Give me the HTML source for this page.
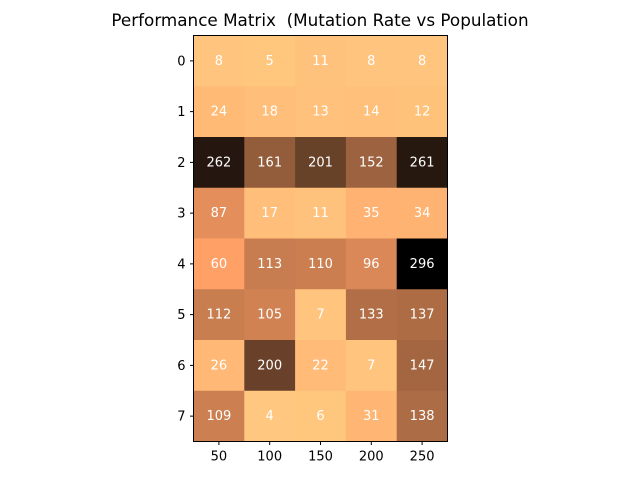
<!DOCTYPE html>
<html><head><meta charset="utf-8"><style>
body{margin:0;background:#fff;}
svg{display:block;font-family:"DejaVu Sans","Liberation Sans",sans-serif;}
</style></head><body>
<svg id="chart" width="640" height="480" viewBox="0 0 640 480">
<text x="320" y="26" text-anchor="middle" font-size="16.8" fill="#000" style="white-space:pre">Performance Matrix  (Mutation Rate vs Population</text>
<g id="cells"></g>
<g id="axes"></g>
</svg>
<script>
const rowLabels = ["0","1","2","3","4","5","6","7"];
const colLabels = ["50","100","150","200","250"];
const values = [
  [8,5,11,8,8],
  [24,18,13,14,12],
  [262,161,201,152,261],
  [87,17,11,35,34],
  [60,113,110,96,296],
  [112,105,7,133,137],
  [26,200,22,7,147],
  [109,4,6,31,138]
];
const L=193.5,R=447.5,T=35.5,B=441.5;
const ns="http://www.w3.org/2000/svg";
const cw=(R-L)/colLabels.length, rh=(B-T)/rowLabels.length;
function xScale(j){return L+j*cw;}
function yScale(i){return T+i*rh;}
const flat=values.flat();
const vmin=Math.min(...flat), vmax=Math.max(...flat);
function color(v){
  const x=1-(v-vmin)/(vmax-vmin);
  const r=Math.min(1.25*x,1)*255, g=0.7812*x*255, b=0.4975*x*255;
  return `rgb(${Math.round(r)},${Math.round(g)},${Math.round(b)})`;
}
const cells=document.getElementById('cells'), axes=document.getElementById('axes');
function mk(tag,attrs,parent){const e=document.createElementNS(ns,tag);for(const k in attrs)e.setAttribute(k,attrs[k]);parent.appendChild(e);return e;}
values.forEach((row,i)=>row.forEach((v,j)=>{
  const r=mk('rect',{x:xScale(j),y:yScale(i),width:cw+0.5,height:rh+0.5,fill:color(v)},cells);
  
  
  const t=mk('text',{x:xScale(j)+cw/2,y:yScale(i)+rh/2+4,'text-anchor':'middle','font-size':'13',fill:'#fff'},cells);
  t.textContent=v;
  
  
}));
const frame=mk('rect',{x:L,y:T,width:R-L,height:B-T,fill:'none',stroke:'#000','stroke-width':1},axes);


rowLabels.forEach((lab,i)=>{
  const y=yScale(i)+rh/2;
  const tk=mk('line',{x1:L,x2:L-3.5,y1:y,y2:y,stroke:'#000'},axes);
  
  
  const t=mk('text',{x:L-8,y:y+4.5,'text-anchor':'end','font-size':'13',fill:'#000'},axes);
  t.textContent=lab;
  
  
});
colLabels.forEach((lab,j)=>{
  const x=xScale(j)+cw/2;
  const tk=mk('line',{x1:x,x2:x,y1:B,y2:B+3.5,stroke:'#000'},axes);
  
  
  const t=mk('text',{x:x,y:B+19,'text-anchor':'middle','font-size':'13',fill:'#000'},axes);
  t.textContent=lab;
  
  
});
</script>
</body></html>
